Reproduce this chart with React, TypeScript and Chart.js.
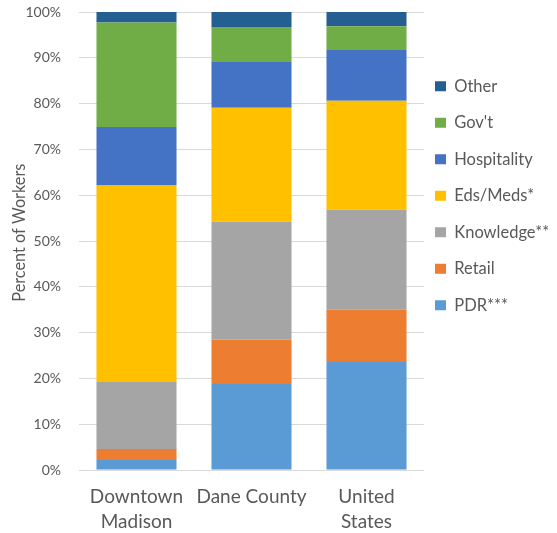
import React, { useEffect, useRef } from "react";
import { Chart, registerables } from "chart.js";

Chart.register(...registerables);

const categories: (string | string[])[] = [["Downtown", "Madison"], "Dane County", ["United", "States"]];
const seriesNames = ["PDR***", "Retail", "Knowledge**", "Eds/Meds*", "Hospitality", "Gov't", "Other"];
const pdr = [2.2, 18.8, 23.6];
const retail = [2.4, 9.7, 11.4];
const knowledge = [14.6, 25.7, 21.8];
const edsMeds = [42.9, 24.9, 23.8];
const hospitality = [12.8, 10.0, 11.1];
const govt = [22.8, 7.6, 5.2];
const other = [2.3, 3.3, 3.1];
const seriesColors = ["#5B9BD5", "#ED7D31", "#A5A5A5", "#FFC000", "#4472C4", "#70AD47", "#255E91"];
const yTicks = [0, 10, 20, 30, 40, 50, 60, 70, 80, 90, 100];

const FONT = "Lato, 'Open Sans', sans-serif";
const TEXT = "#595959";

export default function App() {
  const ref = useRef<HTMLCanvasElement | null>(null);
  useEffect(() => {
    if (!ref.current) return;
    const values = [pdr, retail, knowledge, edsMeds, hospitality, govt, other];
    const legendShift = {
      id: "legendShift",
      afterLayout(chart: any) {
        if (chart.legend) {
          chart.legend.left -= 9;
          chart.legend.right -= 9;
        }
      },
    };
    const chart = new Chart(ref.current, {
      type: "bar",
      data: {
        labels: categories as any,
        datasets: seriesNames.map((name, i) => ({
          label: name,
          data: values[i],
          backgroundColor: seriesColors[i],
          borderWidth: 0,
          barPercentage: 0.696,
          categoryPercentage: 1,
        })),
      },
      options: {
        animation: false,
        responsive: true,
        maintainAspectRatio: false,
        layout: { padding: { top: 12, left: 0, right: 0, bottom: 0 } },
        plugins: {
          tooltip: { enabled: false },
          legend: {
            position: "right",
            align: "start",
            reverse: true,
            maxWidth: 133,
            title: { display: true, text: " ", font: { size: 10, lineHeight: 1 }, padding: { top: 36, bottom: 0 } },
            labels: {
              boxWidth: 11,
              boxHeight: 10,
              padding: 20,
              color: TEXT,
              font: { family: FONT, size: 16.5 },
            },
          },
        },
        scales: {
          x: {
            stacked: true,
            grid: { display: false, drawTicks: false },
            border: { display: false },
            ticks: { color: TEXT, font: { family: FONT, size: 19, lineHeight: "25px" }, padding: 14, maxRotation: 0 },
            afterFit: (s: any) => { s.height = 63; },
          },
          y: {
            stacked: true,
            min: 0,
            max: 100,
            afterBuildTicks: (s: any) => { s.ticks = yTicks.map((v) => ({ value: v })); },
            grid: { color: "#D9D9D9", lineWidth: 1, drawTicks: false },
            border: { display: false },
            ticks: { color: TEXT, font: { family: FONT, size: 14 }, padding: 18, callback: (v: any) => v + "%" },
            title: {
              display: true,
              text: "\u00A0\u00A0\u00A0\u00A0Percent of Workers",
              color: TEXT,
              font: { family: FONT, size: 16.3 },
              padding: { top: 10, bottom: 0 },
            },
            afterFit: (s: any) => { s.width = 79; s.paddingTop = 0; s.paddingBottom = 0; },
          },
        },
      },
      plugins: [legendShift],
    });
    return () => chart.destroy();
  }, []);
  return (
    <div style={{ position: "fixed", left: 0, top: 0, width: 557, height: 533 }}>
      <canvas ref={ref} />
    </div>
  );
}
